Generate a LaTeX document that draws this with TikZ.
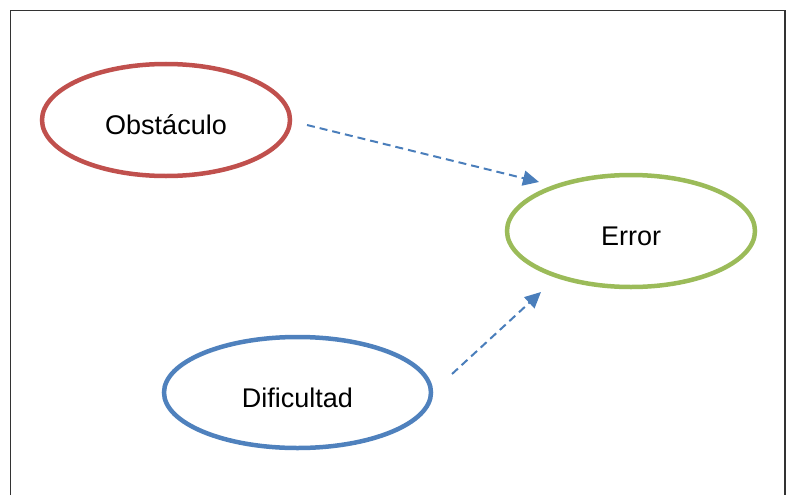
\documentclass[tikz,border=0pt]{standalone}
\usepackage{fontspec}
\setmainfont{Liberation Sans}
\usetikzlibrary{shapes.geometric,arrows.meta}
\definecolor{obsred}{HTML}{C0504D}
\definecolor{errgreen}{HTML}{9BBB59}
\definecolor{difblue}{HTML}{4F81BD}
\definecolor{arrblue}{HTML}{4A7EBB}
% place the label's baseline a fixed distance below the node centre
\newcommand{\lowered}[1]{\raisebox{-14.5pt}[0pt][0pt]{#1}}
\tikzset{
  concept/.style={ellipse, draw, line width=4.5pt, inner sep=0pt,
    minimum width=248pt, minimum height=112pt,
    font=\fontsize{27}{30}\selectfont},
  link/.style={arrblue, line width=2pt, dash pattern=on 8pt off 5pt,
    -{Triangle[length=16pt,width=15pt]}}
}
\begin{document}
\begin{tikzpicture}[x=1pt,y=-1pt]
  \useasboundingbox (0,0) rectangle (789,495);
  % frame, open at the bottom
  \draw[line width=1.3pt, black!80] (10.5,495) -- (10.5,10.5) -- (785,10.5) -- (785,495);

  \node[concept, draw=obsred] (obst) at (166,120) {\lowered{Obstáculo}};
  \node[concept, draw=errgreen] (err) at (631,231) {\lowered{Error}};
  \node[concept, draw=difblue, minimum width=267pt, minimum height=111pt] (dif) at (297.5,392.5) {\lowered{Dificultad}};

  \coordinate (obstout) at (307,125);
  \coordinate (errin1) at (539,182);
  \coordinate (difout) at (452,374);
  \coordinate (errin2) at (541,292);

  \draw[link] (obstout) -- (errin1);
  \draw[link] (difout) -- (errin2);
\end{tikzpicture}
\end{document}
